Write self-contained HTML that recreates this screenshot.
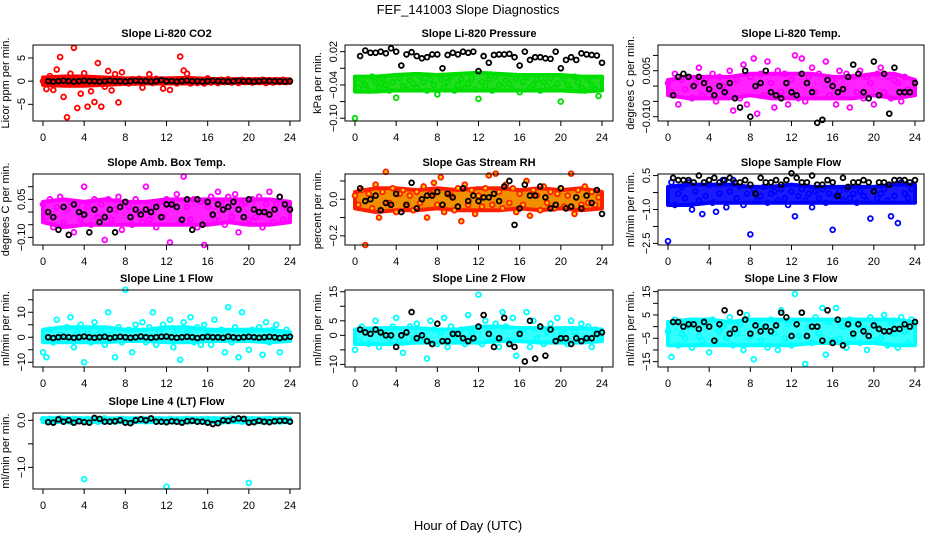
<!DOCTYPE html>
<html><head><meta charset="utf-8"><style>
html,body{margin:0;padding:0;background:#fff;}
svg{display:block;font-family:"Liberation Sans",sans-serif;}
</style></head><body>
<svg id="chart" width="936" height="540" viewBox="0 0 936 540" xmlns="http://www.w3.org/2000/svg">
<text x="468" y="14" text-anchor="middle" font-size="13">FEF_141003  Slope Diagnostics</text>
<text x="468" y="530" text-anchor="middle" font-size="13">Hour of Day (UTC)</text>
</svg>
<script>
const xTicks=[0,4,8,12,16,20,24];
const bandHours=[0,2,4,6,8,10,12,14,16,18,20,22,24];
const co2Color=[0,-1.7,1.1,-1.9,2.5,5.2,-3.4,-7.8,1.6,7.2,-5.8,-2.7,1.7,-5.5,-2.2,-4.5,3.9,-5.5,-1.2,2.2,-2,1.5,-4.6,1.9,0.3,-0.5,0.4,-0.3,0.5,-1.4,0.3,1.5,-0.4,0.5,0.3,-1.6,-0.2,-1.9,0.2,-0.5,5.3,2.3,1.6,-0.5,0.3,-0.4,0.2,-0.5,0.6,-0.3,0.2,-0.4,0.3,-0.2,0.4,-0.3,0.2,-0.4,0.3,-0.2,0.2,-0.3,0.2,-0.2,0.3,-0.4,0.2,-0.3,0.2,-0.2,0.3,-0.2];
const co2Black=[0,-0.1,0,0.1,0,-0.1,0,0.1,0,0,-0.1,0,0.1,0,0,-0.1,0,0.1,0,0,-0.1,0,0.2,0,0,-0.1,0,0.1,0,0,-0.1,0,0.1,0,0,-0.1,0,0.1,0,0,-0.1,0,0.1,0,0,0,-0.1,0];
const co2Lo=[-0.8,-1.0,-1.0,-0.8,-0.6,-0.5,-0.5,-0.5,-0.4,-0.4,-0.4,-0.4,-0.4];
const co2Hi=[0.8,1.0,1.0,0.8,0.6,0.6,0.6,0.7,0.5,0.4,0.4,0.4,0.4];
const presColor=[-0.1,-0.045,-0.03,-0.04,-0.05,-0.025,-0.035,-0.045,-0.03,-0.04,-0.05,-0.035,-0.063,-0.028,-0.042,-0.048,-0.032,-0.038,-0.045,-0.025,-0.035,-0.05,-0.03,-0.04,-0.057,-0.03,-0.045,-0.035,-0.025,-0.05,-0.04,-0.03,-0.045,-0.038,-0.028,-0.048,-0.065,-0.035,-0.042,-0.03,-0.05,-0.025,-0.04,-0.045,-0.032,-0.038,-0.048,-0.03,-0.053,-0.035,-0.025,-0.045,-0.04,-0.03,-0.05,-0.035,-0.042,-0.028,-0.045,-0.038,-0.07,-0.03,-0.04,-0.048,-0.025,-0.035,-0.045,-0.05,-0.03,-0.04,-0.048,-0.06];
const presBlack=[0.012,0.022,0.018,0.018,0.02,0.017,0.026,0.02,-0.005,0.015,0.019,0.012,0.008,0.01,0.015,0.015,-0.01,0.014,0.018,0.015,0.02,0.018,0.02,-0.015,0.012,0.0,0.014,0.015,0.015,0.016,0.01,-0.005,0.02,0.005,0.01,0.01,0.008,0.007,0.02,-0.01,0.005,0.01,0.005,0.017,0.015,0.014,0.013,0.0];
const presLo=[-0.052,-0.052,-0.05,-0.05,-0.05,-0.05,-0.05,-0.05,-0.05,-0.05,-0.05,-0.052,-0.05];
const presHi=[-0.025,-0.025,-0.022,-0.02,-0.022,-0.02,-0.018,-0.02,-0.022,-0.022,-0.022,-0.025,-0.025];
const tempColor=[0.001,-0.002,0.004,-0.006,0.002,-0.001,0.003,-0.004,0.001,0.006,-0.003,0.002,-0.001,0.004,-0.005,0.003,0,-0.002,0.005,-0.008,0.002,-0.004,0.007,-0.006,0.003,0.009,-0.009,0.004,-0.003,0.008,0.001,-0.007,0.005,-0.002,0.004,-0.006,0.002,0.01,-0.004,0.009,-0.005,0.003,0.006,-0.002,0.004,-0.011,0.008,-0.003,0.002,-0.006,0.005,-0.001,0.004,-0.007,0.003,-0.002,0.005,-0.004,0.003,0.001,-0.006,0.004,0.006,-0.002,0.003,-0.004,0.002,0.001,-0.005,0.003,-0.001,-0.002];
const tempBlack=[-0.003,0.003,0.004,0.003,0,0.003,0.001,-0.001,-0.003,0,-0.002,0.001,-0.004,-0.007,0.005,-0.01,0,0.001,0.005,-0.002,-0.003,-0.004,0.001,-0.002,-0.003,0.004,0.001,-0.002,-0.012,-0.011,0.002,0,-0.002,-0.001,0.003,0.007,0.004,-0.002,-0.004,0.008,-0.003,0.004,-0.009,0.006,-0.002,-0.002,-0.002,0.001];
const tempLo=[-0.003,-0.004,-0.004,-0.004,-0.003,-0.004,-0.004,-0.004,-0.004,-0.004,-0.003,-0.004,-0.003];
const tempHi=[0.002,0.003,0.003,0.003,0.004,0.004,0.004,0.004,0.003,0.003,0.004,0.004,0.002];
const ambColor=[0.03,-0.02,0.05,-0.06,0.02,0.06,-0.04,0.01,0.04,-0.08,0.03,-0.03,0.1,0.02,-0.05,0.05,-0.02,0.03,-0.11,0.05,-0.03,0.01,0.06,-0.07,0.04,0.02,-0.05,0.05,0,-0.04,0.1,-0.03,0.02,-0.06,0.04,-0.02,0.05,-0.12,0.03,0.07,-0.04,0.14,0.02,-0.03,0.05,-0.06,0.04,-0.13,0.02,0.06,-0.03,0.08,0.04,-0.05,0.06,-0.02,0.07,-0.08,0.03,0.04,-0.03,0.05,-0.02,0.06,-0.06,0.03,0.08,-0.04,0.03,0.06,-0.03,0.02];
const ambBlack=[0,-0.02,-0.07,0.02,-0.09,0.03,0,-0.01,-0.08,0.01,-0.04,-0.02,0.01,-0.08,0.02,0.04,-0.02,0.01,-0.01,0.01,0,0.02,-0.02,0.03,0.03,0.02,-0.03,0.05,-0.07,0.05,-0.05,0.04,-0.01,0.03,0.01,0.02,0.04,0.01,-0.02,0.05,0.01,0,0,-0.01,0.01,0.06,0.03,0.01];
const ambLo=[-0.04,-0.06,-0.05,-0.05,-0.05,-0.05,-0.05,-0.05,-0.05,-0.04,-0.05,-0.05,-0.04];
const ambHi=[0.04,0.05,0.04,0.05,0.04,0.04,0.05,0.05,0.05,0.05,0.05,0.05,0.04];
const rhColor=[0.02,-0.03,0.05,-0.25,0.03,-0.05,0.08,-0.1,0.04,0.15,-0.02,0.06,-0.07,0.03,0.05,-0.04,0.02,-0.06,0.04,-0.02,0.07,-0.1,0.03,0.09,-0.03,0.12,-0.07,0.04,0.02,-0.06,0.06,-0.12,0.08,-0.03,0.05,-0.08,0.02,-0.04,0.06,0.13,-0.03,0.14,0.04,-0.05,0.08,-0.02,0.06,-0.07,0.03,-0.03,0.1,-0.09,0.05,0.02,-0.06,0.07,-0.02,0.04,-0.05,0.03,0.06,-0.04,0.02,0.14,-0.08,0.05,-0.03,0.07,-0.02,0.04,-0.03,0.01];
const rhBlack=[0.06,-0.01,0,0.02,-0.06,-0.02,-0.03,0.03,-0.07,-0.03,0.09,-0.05,0,0.02,0.02,0.04,-0.03,0.03,0.01,-0.04,0.06,-0.01,0.02,-0.01,0.01,0.01,0.03,-0.01,0.07,0.1,-0.14,-0.05,0.08,0.02,0.02,0.07,0.01,-0.05,-0.03,0.06,-0.05,-0.04,0.01,-0.05,0.02,-0.02,0.05,-0.08];
const rhLo=[-0.05,-0.07,-0.06,-0.06,-0.05,-0.06,-0.06,-0.06,-0.05,-0.06,-0.05,-0.06,-0.05];
const rhHi=[0.04,0.06,0.06,0.05,0.06,0.05,0.06,0.06,0.05,0.06,0.05,0.06,0.04];
const sampColor=[-2.4,0.2,-0.8,-0.3,0,-0.5,0.2,-1,-0.2,-0.6,-1.2,-0.4,0.1,-0.7,-1.1,-0.3,0.3,-0.9,-0.2,0.3,-0.5,0,-0.8,-0.3,-2.1,-0.1,-0.6,-0.4,0,-0.7,-0.3,-0.2,-0.6,-0.1,-0.5,-0.8,-0.2,-1.3,-0.4,-0.1,-0.6,-0.3,-0.9,-0.2,-0.5,-0.1,-0.7,-0.3,-1.9,-0.4,-0.2,-0.6,-0.1,-0.5,-0.3,-0.7,-0.2,-0.4,-0.6,-1.4,-0.2,-0.5,-0.3,-0.1,-0.6,-1.3,-0.4,-1.6,0.2,-0.3,-0.5,-0.1];
const sampBlack=[0.4,0.3,0.3,0.3,0.2,0.5,0.2,0.3,0.4,0.2,0.3,0.4,0.2,0.2,0.3,0.1,-0.3,0.4,0.2,0.2,0.3,0.1,0.3,0.6,0.4,0.2,0.2,0.5,0.1,0.1,0.3,0.2,-0.4,0.4,0.0,0.2,0.2,0.3,0.2,-0.2,0.2,0.2,0.1,0.3,0.3,0.3,0.2,0.3];
const sampLo=[-0.8,-0.8,-0.7,-0.7,-0.7,-0.7,-0.7,-0.7,-0.7,-0.7,-0.7,-0.7,-0.7];
const sampHi=[0,0.1,0.1,0.1,0,0,0.1,0,0,0,0,0.1,0.1];
const line1Color=[-6,-8,3,-2,7,1,-1,4,8,-4,2,5,-10,3,-2,6,0,2,-3,10,1,-8,4,-2,19,3,-6,5,-1,6,-2,4,10,-3,2,5,-1,7,-4,3,-9,6,2,8,-2,4,-3,5,1,-3,7,-1,3,-6,12,-2,4,-8,10,2,-5,3,-1,4,-7,6,-2,3,5,-6,-1,3];
const line1Black=[0,-0.3,0,0.2,0,-0.2,0,0.3,0,-0.2,0,0.2,-0.3,0,0.2,0,-0.2,0,0.3,0,-0.2,0,0.2,0.3,0,-0.2,0,0.2,0,-0.3,0,0.2,0,0,-0.2,0.3,0,-0.2,0,0.2,0,-0.2,0,0.2,0,-0.3,0,0.2];
const line1Lo=[-2,-2,-2,-2,-1.5,-1.5,-2,-2,-1.5,-1.5,-1.5,-2,-1.5];
const line1Hi=[3,4,4,4,3,3,4,4,3,3,3,3,2];
const line2Color=[-5,-2,3,1,-3,2,5,-4,0,2,-1,3,6,-2,-6,1,3,-1,4,-2,0,-8,5,2,-3,1,6,-4,3,0,-1,2,-3,7,1,-2,14,-3,5,2,-1,4,-4,8,3,-2,6,-7,0,2,8,-4,5,-1,3,-3,1,4,-2,6,0,2,-3,5,1,-2,4,-1,3,-4,2,0];
const line2Black=[2,1,0.5,2,1,0,0,-4,0,1,8,-1,0,-2,-3,4,-2,-2,0.5,0.5,-1,-2,-1,3,7,0.5,-4,-1,6,-3,-4,0.5,-9,5,-8,3,-7,2,-2,-1,-1,-3,-1,-2,-1,-1,0.5,1];
const line2Lo=[-3,-3,-3,-2.5,-2.5,-2.5,-2.5,-2,-2,-2.5,-2.5,-2.5,-2];
const line2Hi=[2,2.5,2.5,2.5,2,2,3,3,2.5,2.5,2.5,2.5,2];
const line3Color=[-2,-13,3,-8,-3,-5,0,-9,2,-4,-6,1,-11,3,-7,-2,0,-5,4,-8,-3,1,-10,5,-4,-14,2,-6,0,-9,3,-3,-10,7,-5,1,-8,14,-4,6,-16,0,-7,4,-3,8,-12,2,-6,8,-5,0,-9,3,-4,1,-7,-1,-10,4,-6,0,-5,5,-8,2,-3,-9,4,-2,-7,3];
const line3Black=[2,2,0,1,1,-1,2,0,-6,1,7,-3,-1,6,3,-3,0.5,-2,0,-2,0.5,6,4,-4,1,6,-4,0,0,-6,7,-7,3,-8,1,-3,1,-2,-4,0.5,-1,-2,-2,-1,-1,1,0,2];
const line3Lo=[-8,-8,-8,-8,-8,-8,-8,-7,-7,-7,-7,-8,-8];
const line3Hi=[2,3,3,2,3,3,3,3,3,3,3,3,2];
const line4Color=[0.02,-0.02,0.03,-0.03,0.01,0.04,-0.02,0.02,-0.03,0.03,-0.01,0.02,-1.25,0.03,-0.02,0.01,-0.03,0.02,0.04,-0.02,0.01,-0.03,0.02,0.03,-0.02,0.01,-0.03,0.02,-0.01,0.03,-0.02,0.02,0.01,-0.03,0.02,-0.02,-1.41,0.03,-0.02,0.01,-0.03,0.02,0.03,-0.02,0.01,-0.03,0.02,-0.01,0.03,-0.02,0.02,0.01,-0.03,0.02,-0.02,0.04,-0.01,0.02,-0.03,0.03,-1.33,0.02,-0.02,0.01,-0.03,0.02,0.03,-0.02,0.01,-0.03,0.02,-0.01];
const line4Black=[-0.04,-0.05,0.02,-0.03,0,-0.05,-0.02,-0.04,-0.05,0.05,0.03,-0.03,-0.03,-0.02,0,-0.05,-0.06,0,0.02,0,0.04,-0.03,-0.03,-0.04,-0.02,-0.03,-0.05,-0.02,-0.01,-0.03,-0.03,-0.05,-0.08,-0.06,0,-0.01,0.02,0.04,0.03,-0.05,-0.04,-0.01,-0.03,-0.04,-0.02,-0.01,-0.01,-0.03];
const line4Lo=[-0.04,-0.04,-0.04,-0.04,-0.04,-0.04,-0.04,-0.04,-0.04,-0.04,-0.04,-0.04,-0.04];
const line4Hi=[0.04,0.05,0.04,0.04,0.04,0.04,0.04,0.04,0.04,0.04,0.04,0.04,0.04];

const panels=[
 {name:'co2',title:'Slope Li-820 CO2',ylab:'Licor ppm per min.',col:0,row:0,ylim:[-8.6,7.8],ticks:[5,0,-5],labels:['5','0','-5'],color:'#ff0000',bandFill:'#ff0000',fill:'none',c:co2Color,b:co2Black,lo:co2Lo,hi:co2Hi},
 {name:'pressure',title:'Slope Li-820 Pressure',ylab:'kPa per min.',col:1,row:0,ylim:[-0.105,0.032],ticks:[0.02,-0.01,-0.04,-0.07,-0.1],labels:['0.02','','-0.04','','-0.10'],color:'#00dd00',bandFill:'#22dd22',fill:'none',c:presColor,b:presBlack,lo:presLo,hi:presHi},
 {name:'temp',title:'Slope Li-820 Temp.',ylab:'degrees C per min.',col:2,row:0,ylim:[-0.0114,0.0134],ticks:[0.01,0.005,0,-0.005,-0.01],labels:['','0.005','','','-0.010'],color:'#ff00ff',bandFill:'#ff22ff',fill:'none',c:tempColor,b:tempBlack,lo:tempLo,hi:tempHi},
 {name:'amb-temp',title:'Slope Amb. Box Temp.',ylab:'degrees C per min.',col:0,row:1,ylim:[-0.13,0.15],ticks:[0.1,0.05,0,-0.05,-0.1],labels:['','0.05','','','-0.10'],color:'#ff00ff',bandFill:'#ff22ff',fill:'none',c:ambColor,b:ambBlack,lo:ambLo,hi:ambHi},
 {name:'gas-rh',title:'Slope Gas Stream RH',ylab:'percent per min.',col:1,row:1,ylim:[-0.25,0.138],ticks:[0.1,0,-0.1,-0.2],labels:['','0.0','','-0.2'],color:'#ff2000',bandFill:'#f09000',fill:'#ffcc00',c:rhColor,b:rhBlack,lo:rhLo,hi:rhHi},
 {name:'sample-flow',title:'Slope Sample Flow',ylab:'ml/min per min.',col:2,row:1,ylim:[-2.57,0.57],ticks:[0.5,-0.25,-1,-1.75,-2.5],labels:['0.5','','-1.0','','-2.5'],color:'#0000ff',bandFill:'#1a1aff',fill:'none',c:sampColor,b:sampBlack,lo:sampLo,hi:sampHi},
 {name:'line1-flow',title:'Slope Line 1 Flow',ylab:'ml/min per min.',col:0,row:2,ylim:[-11.9,18.9],ticks:[15,10,5,0,-5,-10],labels:['','10','','0','','-10'],color:'#00ffff',bandFill:'#33ffff',fill:'none',c:line1Color,b:line1Black,lo:line1Lo,hi:line1Hi},
 {name:'line2-flow',title:'Slope Line 2 Flow',ylab:'ml/min per min.',col:1,row:2,ylim:[-10.9,15.6],ticks:[15,10,5,0,-5,-10],labels:['15','','5','0','','-10'],color:'#00ffff',bandFill:'#33ffff',fill:'none',c:line2Color,b:line2Black,lo:line2Lo,hi:line2Hi},
 {name:'line3-flow',title:'Slope Line 3 Flow',ylab:'ml/min per min.',col:2,row:2,ylim:[-17.3,15.7],ticks:[15,10,5,0,-5,-10,-15],labels:['15','','5','','-5','','-15'],color:'#00ffff',bandFill:'#33ffff',fill:'none',c:line3Color,b:line3Black,lo:line3Lo,hi:line3Hi},
 {name:'line4-flow',title:'Slope Line 4 (LT) Flow',ylab:'ml/min per min.',col:0,row:3,ylim:[-1.46,0.155],ticks:[0,-0.5,-1],labels:['0.0','','-1.0'],color:'#00ffff',bandFill:'#22ffff',fill:'none',c:line4Color,b:line4Black,lo:line4Lo,hi:line4Hi}
];
const colsX=[[33,300],[345,613],[658,924]];
const rowsY=[[45,121],[174,245],[290,367],[413,489]];
const NS='http://www.w3.org/2000/svg';
const svg=document.getElementById('chart');
function mk(tag,attrs,parent){const e=document.createElementNS(NS,tag);for(const k in attrs)e.setAttribute(k,attrs[k]);(parent||svg).appendChild(e);return e;}
panels.forEach(p=>{
 const [L,R]=colsX[p.col],[T,B]=rowsY[p.row];
 const g=mk('g',{});
 
 
 const xs=h=>L+10+h*(247/24);
 const ys=v=>B-(v-p.ylim[0])/(p.ylim[1]-p.ylim[0])*(B-T);
 const t=mk('text',{x:(L+R)/2,y:T-8,'text-anchor':'middle','font-size':'11','font-weight':'bold'},g);
 t.textContent=p.title;
 
 
 const yl=mk('text',{x:0,y:0,transform:`translate(${L-24},${(T+B)/2}) rotate(-90)`,'text-anchor':'middle','font-size':'11'},g);
 yl.textContent=p.ylab;
 
 
 const top=bandHours.map((h,i)=>`${xs(h)},${ys(p.hi[i])}`);
 const bot=bandHours.map((h,i)=>`${xs(h)},${ys(p.lo[i])}`).reverse();
 const band=mk('polygon',{points:top.concat(bot).join(' '),fill:p.bandFill,stroke:p.color,'stroke-width':4,'stroke-linejoin':'round'},g);
 
 
 const pts=mk('g',{},g);
 
 
 p.c.forEach((v,i)=>{const c=mk('circle',{cx:xs(i/3),cy:ys(v),r:2.4,fill:p.fill,stroke:p.color,'stroke-width':1.8},pts);
  
  });
 const bp=mk('g',{},g);
 
 
 p.b.forEach((v,i)=>{const c=mk('circle',{cx:xs(0.5+i*0.5),cy:ys(v),r:2.4,fill:'none',stroke:'#000','stroke-width':1.8},bp);
  
  });
 const box=mk('rect',{x:L,y:T,width:R-L,height:B-T,fill:'none',stroke:'#000','stroke-width':1},g);
 
 
 xTicks.forEach(h=>{const x=xs(h);mk('line',{x1:x,x2:x,y1:B,y2:B+5,stroke:'#000'},g);
  const tx=mk('text',{x:x,y:B+20,'text-anchor':'middle','font-size':'11'},g);tx.textContent=h;
  
  });
 p.ticks.forEach((v,i)=>{const y=ys(v);mk('line',{x1:L-5,x2:L,y1:y,y2:y,stroke:'#000'},g);
  if(p.labels[i]){const tx=mk('text',{x:0,y:0,transform:`translate(${L-8},${y}) rotate(-90)`,'text-anchor':'middle','font-size':'11'},g);tx.textContent=p.labels[i].replace('-','\u2212');
  
  }});
});
</script>
</body></html>
